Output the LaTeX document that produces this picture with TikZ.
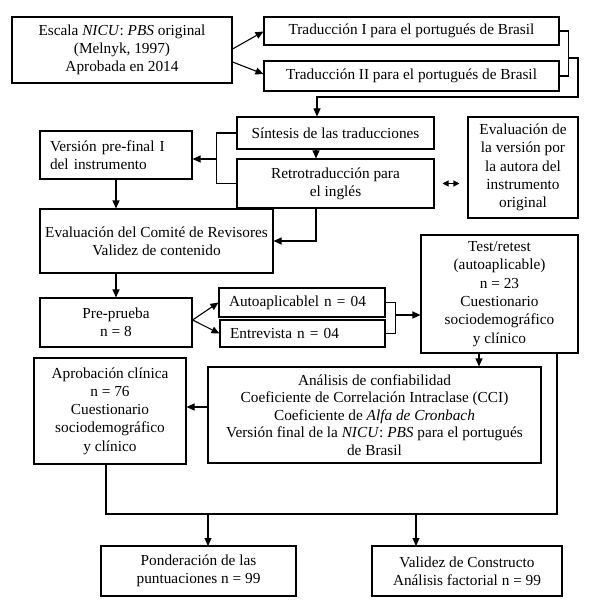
\documentclass[tikz,border=0pt]{standalone}
\usepackage{fontspec}
\setmainfont{Liberation Serif}
\usetikzlibrary{arrows.meta,calc}
\begin{document}
\begin{tikzpicture}[x=1pt,y=-1pt,
  box/.style={draw, line width=1.1pt, inner sep=0pt, align=center,
    font=\fontsize{15.3}{18.3}\selectfont},
  ln/.style={line width=1.1pt},
  arr/.style={line width=1.1pt, -{Triangle[length=8pt,width=7pt]}},
  darr/.style={line width=1.1pt, {Triangle[length=6pt,width=6pt]}-{Triangle[length=6pt,width=6pt]}}]
\useasboundingbox (0,0) rectangle (600,607);
% nodes
\node[box, minimum width=220, minimum height=66] (esc) at (122,50) {Escala \textit{NICU}: \textit{PBS} original\\(Melnyk, 1997)\\Aprobada en 2014};
\node[box, minimum width=295, minimum height=28] (t1) at (411.5,31) {Traducción I para el portugués de Brasil};
\node[box, minimum width=295, minimum height=30] (t2) at (411.5,76) {Traducción II para el portugués de Brasil};
\node[box, minimum width=197, minimum height=32] (sin) at (335.5,133) {Síntesis de las traducciones};
\node[box, minimum width=197, minimum height=49] (ret) at (335.5,183.5) {Retrotraducción para\\el inglés};
\node[box, minimum width=110, minimum height=101] (eva) at (523,167.5) {Evaluación de\\la versión por\\la autora del\\instrumento\\original};
\node[box, minimum width=152, minimum height=48, text width=132, align=left] (ver) at (116,155) {Versión pre-final I\\del instrumento};
\node[box, minimum width=233, minimum height=64] (com) at (156.5,241) {Evaluación del Comité de Revisores\\Validez de contenido};
\node[box, minimum width=157, minimum height=118] (test) at (499.5,294) {Test/retest\\(autoaplicable)\\n = 23\\Cuestionario\\sociodemográfico\\y clínico};
\node[box, minimum width=152, minimum height=49] (pre) at (116,322.5) {Pre-prueba\\n = 8};
\node[box, minimum width=166, minimum height=29, text width=146, align=left] (auto) at (302,302.5) {Autoaplicablel n = 04};
\node[box, minimum width=165, minimum height=27, text width=145, align=left] (entr) at (302.5,333.5) {Entrevista n = 04};
\node[box, minimum width=152, minimum height=106] (apr) at (110,411) {Aprobación clínica\\n = 76\\Cuestionario\\sociodemográfico\\y clínico};
\node[box, minimum width=333, minimum height=96, font=\fontsize{15.3}{17.5}\selectfont] (ana) at (374.5,415) {Análisis de confiabilidad\\Coeficiente de Correlación Intraclase (CCI)\\Coeficiente de \textit{Alfa de Cronbach}\\Versión final de la \textit{NICU}: \textit{PBS} para el portugués\\de Brasil};
\node[box, minimum width=195, minimum height=50] (pon) at (198.5,571) {Ponderación de las\\puntuaciones n = 99};
\node[box, minimum width=190, minimum height=50] (val) at (467,571) {Validez de Constructo\\Análisis factorial n = 99};
% connectors
\draw[arr] ([yshift=1pt]esc.east) -- ([yshift=-0.5pt]t1.west);
\draw[arr] ([yshift=-12pt]esc.east) -- ([yshift=2pt]t2.west);
\draw[ln] (t1.east) -- ++(9,0) |- (t2.east);
\coordinate (tj) at (568,58);
\draw[arr] (tj) -- (578,58) -- (578,97) -| ([xshift=-18.5pt]sin.north);
\draw[arr] ([xshift=-19.5pt]sin.south) -- ([xshift=-19.5pt]ret.north);
\draw[ln] (sin.west) -- ++(-20,0) |- (ret.west);
\draw[arr] ([xshift=-20pt]sin.west |- 0,159) -- (ver.east |- 0,159);
\draw[darr] ([xshift=8pt]ret.east) -- ([xshift=-8pt]eva.west |- ret.east);
\draw[arr] (ver.south) -- (ver.south |- com.north);
\draw[arr] ([xshift=-19.5pt]ret.south) |- (com.east);
\draw[arr] (com.south -| ver.south) -- (ver.south |- pre.north);
\draw[arr] ([yshift=2.5pt]pre.east) -- (auto.west);
\draw[arr] ([yshift=2.5pt]pre.east) -- (entr.west);
\draw[ln] (auto.east) -- ++(10,0) |- (entr.east);
\coordinate (bj) at (395,315);
\draw[arr] (bj) -- (bj -| test.west);
\draw[arr] ([xshift=-20.5pt]test.south) -- ([xshift=-20.5pt]test.south |- ana.north);
\draw[arr] ([yshift=8pt]ana.west) -- ([yshift=8pt]ana.west -| apr.east);
\coordinate (ml) at (106,514);
\coordinate (mr) at (557,514);
\draw[ln] (ml |- apr.south) -- (ml) -- (mr) -- (mr |- test.south);
\draw[arr] (208,514) -- (208,546);
\draw[arr] (416,514) -- (416,546);
\end{tikzpicture}
\end{document}
